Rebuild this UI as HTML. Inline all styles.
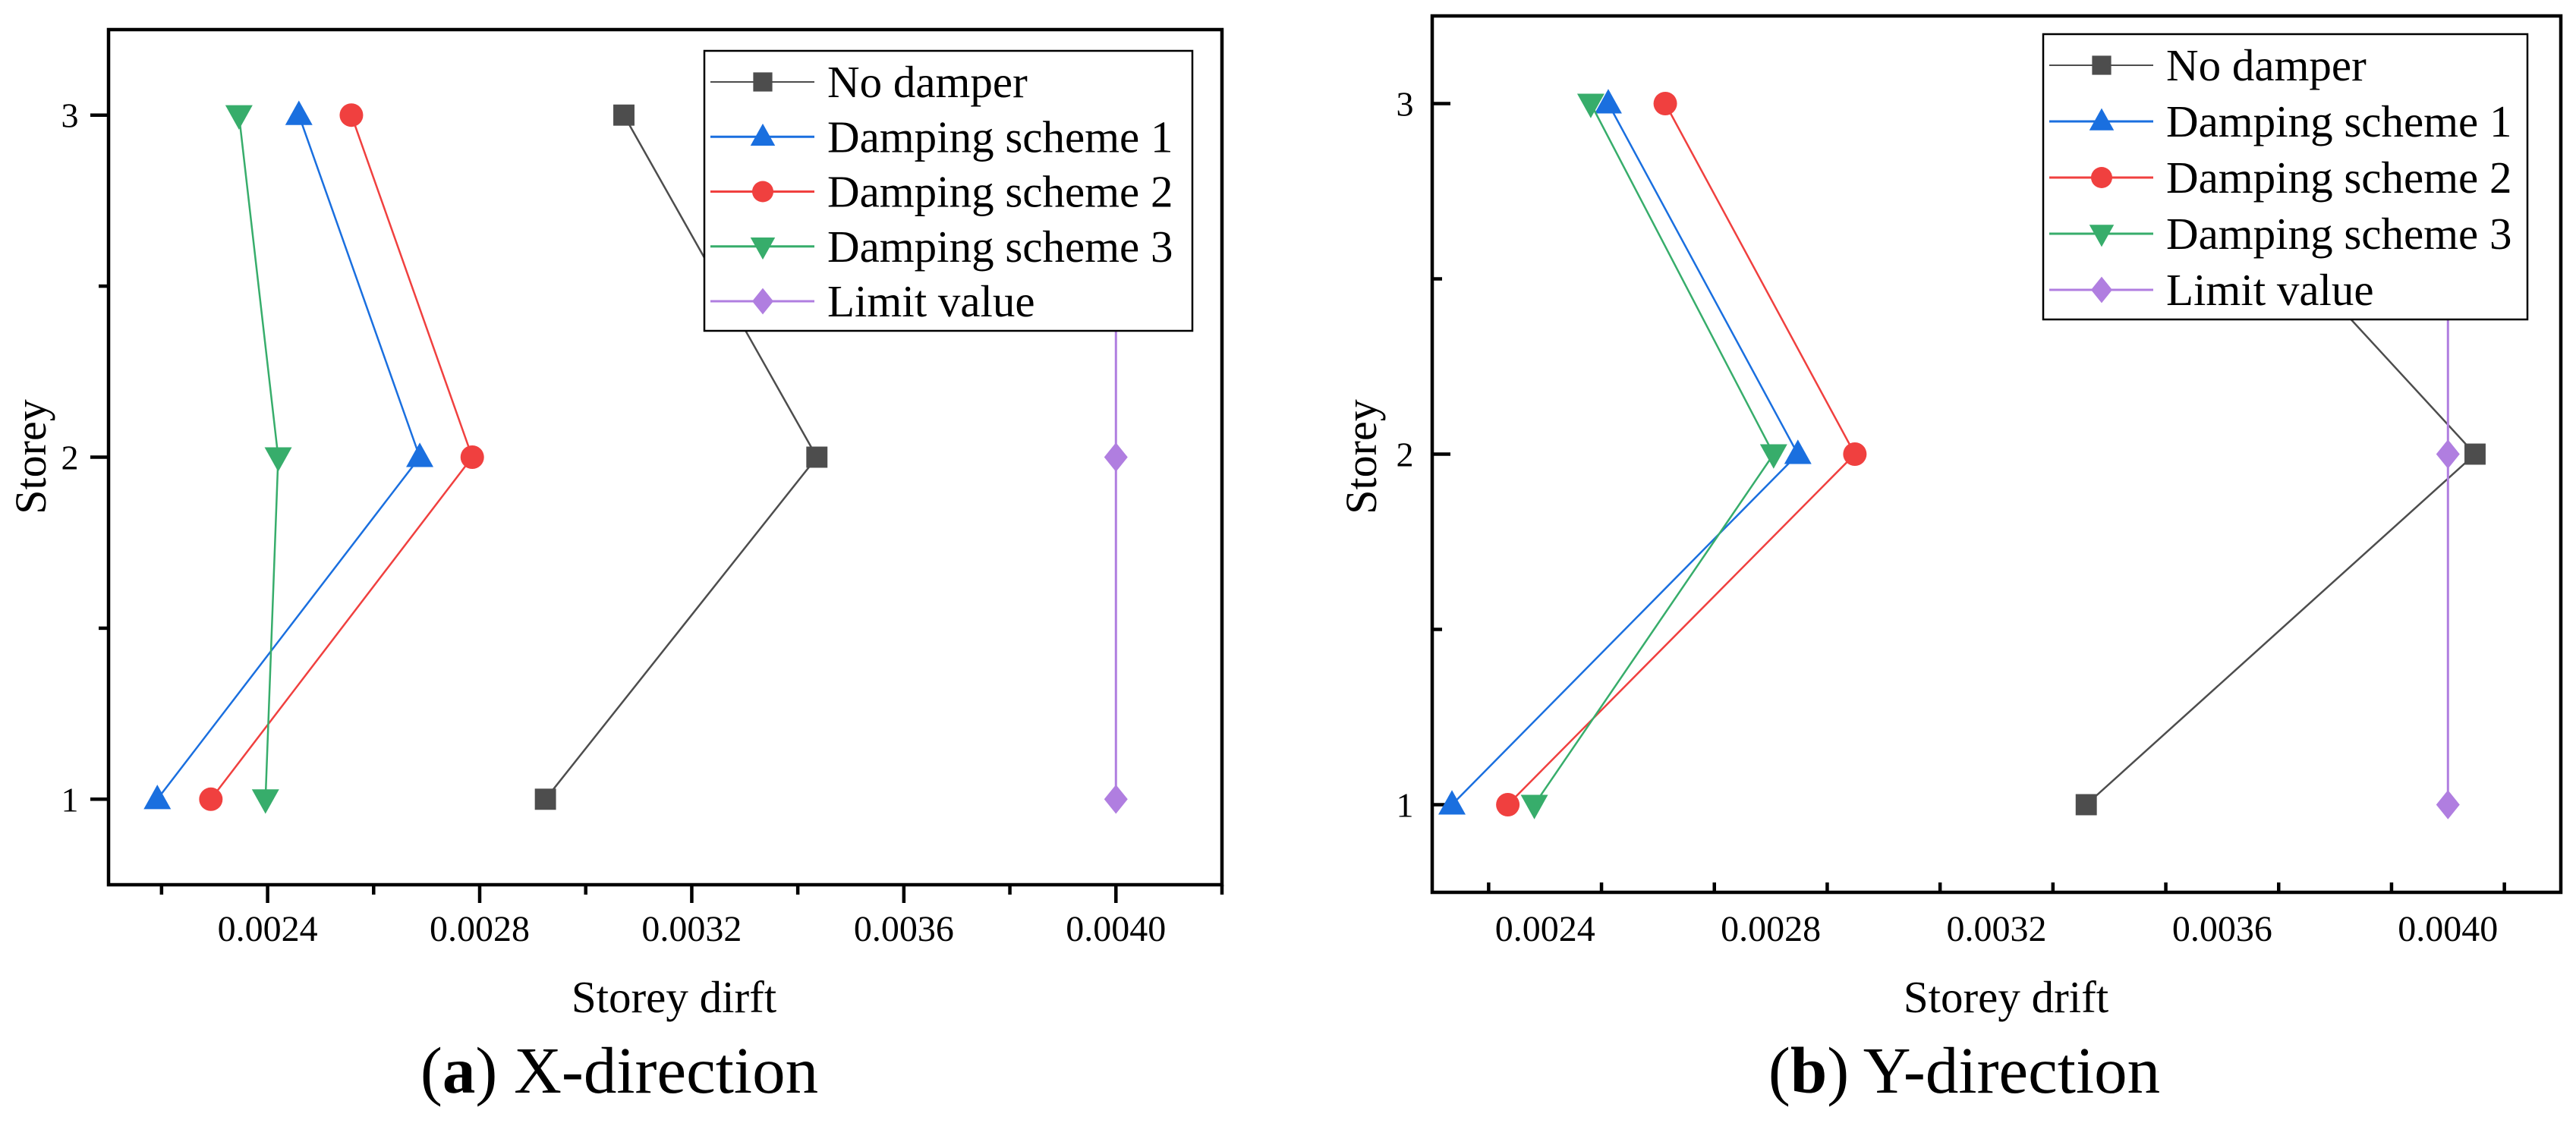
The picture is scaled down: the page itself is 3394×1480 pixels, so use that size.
<!DOCTYPE html>
<html><head><meta charset="utf-8">
<style>
html,body{margin:0;padding:0;background:#fff;}
svg, svg text, svg tspan{font-family:"Liberation Serif","Times New Roman",Times,serif;}
</style></head>
<body>
<svg id="fig" width="3394" height="1475" viewBox="0 0 3394 1475" xmlns="http://www.w3.org/2000/svg" font-family="Liberation Serif, Times New Roman, serif"></svg>
<script>
const storeys = [1, 2, 3];
const seriesNames = ["No damper", "Damping scheme 1", "Damping scheme 2", "Damping scheme 3", "Limit value"];
const xTickValues = [0.0024, 0.0028, 0.0032, 0.0036, 0.0040];
const xTickLabels = ["0.0024", "0.0028", "0.0032", "0.0036", "0.0040"];
const yTickValues = [1, 2, 3];
const yTickLabels = ["1", "2", "3"];
// Panel (a) X-direction
const xNoDamper = [0.002924, 0.003436, 0.003072];
const xScheme1 = [0.002192, 0.002687, 0.002459];
const xScheme2 = [0.002293, 0.002786, 0.002558];
const xScheme3 = [0.002396, 0.002420, 0.002346];
const xLimit = [0.0040, 0.0040, 0.0040];
// Panel (b) Y-direction
const yNoDamper = [0.003359, 0.004048, 0.003476];
const yScheme1 = [0.002235, 0.002848, 0.002512];
const yScheme2 = [0.002334, 0.002949, 0.002613];
const yScheme3 = [0.002381, 0.002805, 0.002481];
const yLimit = [0.0040, 0.0040, 0.0040];

const colors = ["#4d4d4d", "#1a6fdf", "#f0403f", "#37ad6b", "#b07ee0"];
const shapes = ["square", "tri-up", "circle", "tri-down", "diamond"];
const FONT = "Liberation Serif, Times New Roman, serif";
const NS = "http://www.w3.org/2000/svg";
const svg = document.getElementById("fig");

function mk(tag, attrs, parent) {
  const e = document.createElementNS(NS, tag);
  for (const k in attrs) e.setAttribute(k, attrs[k]);
  if (tag === "text") e.setAttribute("font-family", FONT);
  (parent || svg).appendChild(e);
  return e;
}
function marker(g, shape, cx, cy, color, s) {
  let e;
  if (shape === "square") e = mk("rect", {x: cx - s*0.45, y: cy - s*0.45, width: s*0.9, height: s*0.9, fill: color}, g);
  else if (shape === "circle") e = mk("circle", {cx: cx, cy: cy, r: s*0.5, fill: color}, g);
  else if (shape === "tri-up") e = mk("polygon", {points: `${cx},${cy-s*0.62} ${cx-s*0.58},${cy+s*0.42} ${cx+s*0.58},${cy+s*0.42}`, fill: color}, g);
  else if (shape === "tri-down") e = mk("polygon", {points: `${cx},${cy+s*0.62} ${cx-s*0.58},${cy-s*0.42} ${cx+s*0.58},${cy-s*0.42}`, fill: color}, g);
  else e = mk("polygon", {points: `${cx},${cy-s*0.62} ${cx+s*0.5},${cy} ${cx},${cy+s*0.62} ${cx-s*0.5},${cy}`, fill: color}, g);
  return e;
}

function panel(cfg) {
  const g = mk("g", {});
  
  
  const X = v => cfg.L + (v - cfg.xmin) / (cfg.xmax - cfg.xmin) * (cfg.R - cfg.L);
  const Y = v => cfg.B - (v - 0.75) / 2.5 * (cfg.B - cfg.T);
  const dir = cfg.inward ? -1 : 1;
  const tg = mk("g", {stroke: "#000", "stroke-width": 4.5}, g);
  
  
  for (let v = cfg.xmin + 0.0001; v < cfg.xmax + 0.00005; v += 0.0002) {
    const major = xTickValues.some(t => Math.abs(t - v) < 1e-7);
    const len = major ? 24 : 13;
    const x = X(v);
    mk("line", {x1: x, y1: cfg.B, x2: x, y2: cfg.B + dir * len}, tg);
  }
  const yg = mk("g", {stroke: "#000", "stroke-width": 4.5}, g);
  
  
  for (let v = 1; v <= 3.01; v += 0.5) {
    const major = Math.abs(v - Math.round(v)) < 1e-6;
    const len = major ? 24 : 13;
    mk("line", {x1: cfg.L, y1: Y(v), x2: cfg.L - dir * len, y2: Y(v)}, yg);
  }
  xTickValues.forEach((v, i) => {
    const t = mk("text", {x: X(v), y: 1240, "text-anchor": "middle", "font-size": 48}, g);
    
    
    t.textContent = xTickLabels[i];
  });
  yTickValues.forEach((v, i) => {
    const t = mk("text", {x: cfg.yLabX, y: Y(v) + 16, "text-anchor": "middle", "font-size": 46}, g);
    
    
    t.textContent = yTickLabels[i];
  });
  cfg.data.forEach((arr, si) => {
    const sg = mk("g", {}, g);
    
    
    const pts = arr.map((v, i) => X(v) + "," + Y(storeys[i])).join(" ");
    mk("polyline", {points: pts, fill: "none", stroke: colors[si], "stroke-width": si === 4 ? 3 : 2.5}, sg);
    arr.forEach((v, i) => {
      const m = marker(sg, shapes[si], X(v), Y(storeys[i]), colors[si], 31);
      
      
    });
  });
  const fr = mk("rect", {x: cfg.L, y: cfg.T, width: cfg.R - cfg.L, height: cfg.B - cfg.T, fill: "none", stroke: "#000", "stroke-width": 4.5}, g);
  
  
  const lg = mk("g", {}, g);
  
  
  mk("rect", {x: cfg.lgL, y: cfg.lgT, width: cfg.lgR - cfg.lgL, height: cfg.lgB - cfg.lgT, fill: "#fff", stroke: "#000", "stroke-width": 2.5}, lg);
  const step = (cfg.lgB - cfg.lgT - 80) / 4;
  seriesNames.forEach((n, i) => {
    const ey = cfg.lgT + 41 + i * step;
    const eg = mk("g", {}, lg);
    
    
    mk("line", {x1: cfg.lgL + 8, y1: ey, x2: cfg.lgL + 145, y2: ey, stroke: colors[i], "stroke-width": i === 0 ? 2 : 3}, eg);
    marker(eg, shapes[i], cfg.lgL + 77, ey, colors[i], 28);
    const t = mk("text", {x: cfg.lgL + 162, y: ey + 20, "font-size": 59}, eg);
    t.textContent = n;
  });
  const xt = mk("text", {x: cfg.xTitleX, y: 1334, "text-anchor": "middle", "font-size": 59}, g);
  
  
  xt.textContent = cfg.xTitle;
  const yt = mk("text", {x: 0, y: 0, "text-anchor": "middle", "font-size": 58, transform: `translate(${cfg.yTitleX + 20},602) rotate(-90)`}, g);
  
  
  yt.textContent = "Storey";
  const cap = mk("text", {x: cfg.capX, y: 1440, "text-anchor": "middle", "font-size": 87}, g);
  
  
  const b = mk("tspan", {}, cap); b.textContent = "(";
  const bb = mk("tspan", {"font-weight": "bold"}, cap); bb.textContent = cfg.letter;
  const rest = mk("tspan", {}, cap); rest.textContent = ") " + cfg.dirText;
}

panel({name: "panel-x-direction", L: 143, R: 1610, T: 39, B: 1166, xmin: 0.0021, xmax: 0.0042, inward: false,
  yLabX: 92, yTitleX: 40, xTitleX: 888, capX: 816, letter: "a", dirText: "X-direction", xTitle: "Storey dirft",
  lgL: 928, lgR: 1571, lgT: 67, lgB: 436,
  data: [xNoDamper, xScheme1, xScheme2, xScheme3, xLimit]});
panel({name: "panel-y-direction", L: 1887, R: 3374, T: 21, B: 1176, xmin: 0.0022, xmax: 0.0042, inward: true,
  yLabX: 1851, yTitleX: 1793, xTitleX: 2643, capX: 2588, letter: "b", dirText: "Y-direction", xTitle: "Storey drift",
  lgL: 2692, lgR: 3330, lgT: 45, lgB: 421,
  data: [yNoDamper, yScheme1, yScheme2, yScheme3, yLimit]});
</script>
</body></html>
